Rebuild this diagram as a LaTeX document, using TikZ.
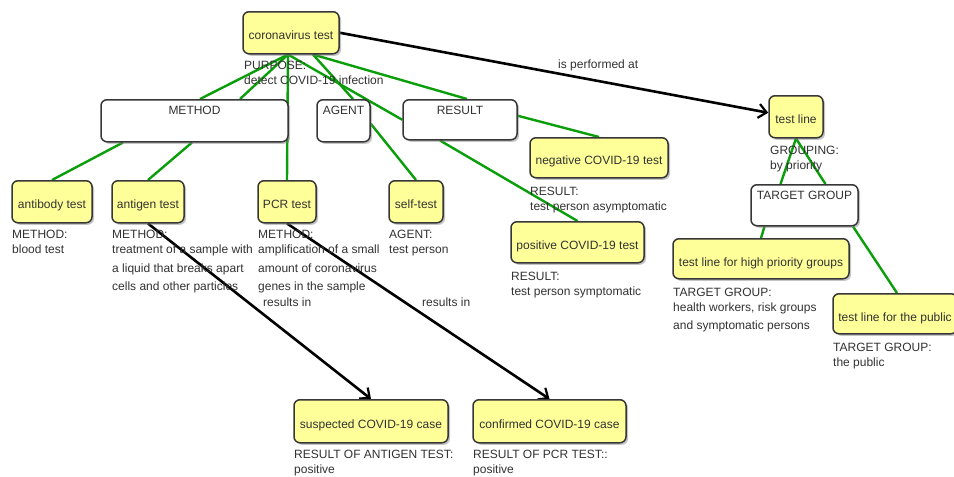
\documentclass[tikz,border=0pt]{standalone}
\usepackage{fontspec}
\setmainfont{Liberation Sans}
\usetikzlibrary{arrows.meta,shadows,backgrounds}
\definecolor{conceptfill}{RGB}{255,255,153}
\definecolor{linkgreen}{RGB}{10,158,10}
\definecolor{edgegray}{RGB}{55,55,55}
\definecolor{txtgray}{RGB}{50,50,50}
\begin{document}
\begin{tikzpicture}[x=1pt,y=-1pt,
  base/.style={draw=edgegray, line width=1.5pt, rounded corners=6pt, inner sep=0pt,
    anchor=north, text=txtgray, font=\fontsize{12}{14}\selectfont,
    drop shadow={shadow xshift=2pt,shadow yshift=-2pt,opacity=0.45}},
  concept/.style={base, fill=conceptfill, text height=28pt, text depth=14pt},
  slot/.style={base, fill=white, text height=15pt, text depth=27pt},
  attr/.style={anchor=north west, align=left, inner sep=0pt, text=txtgray,
    font=\fontsize{12}{15}\selectfont},
  rlabel/.style={anchor=base west, inner sep=0pt, text=txtgray,
    font=\fontsize{12}{15}\selectfont},
  link/.style={linkgreen, line width=2.4pt},
  rel/.style={black, line width=2.6pt,
    -{Straight Barb[length=8pt,width=14pt,line width=2.2pt]}}
]
\useasboundingbox (0,0) rectangle (954,477);

% concepts
\node[concept, minimum width=96pt]  (ct)     at (291,11)   {coronavirus test};
\node[slot,    minimum width=187pt] (method) at (194.5,99) {METHOD};
\node[slot,    minimum width=53pt]  (agent)  at (343.5,99) {AGENT};
\node[slot,    minimum width=114pt, text depth=25pt] (result) at (460,99) {RESULT};
\node[concept, minimum width=54pt]  (tline)  at (796,95)   {test line};
\node[concept, minimum width=138pt, text height=27pt, text depth=13pt] (neg) at (599,137) {negative COVID-19 test};
\node[concept, minimum width=80pt]  (antib)  at (52,180)   {antibody test};
\node[concept, minimum width=72pt]  (antig)  at (148,180)  {antigen test};
\node[concept, minimum width=58pt]  (pcr)    at (287,180)  {PCR test};
\node[concept, minimum width=54pt]  (self)   at (416,180)  {self-test};
\node[concept, minimum width=133pt, text depth=13pt] (pos) at (577.5,221) {positive COVID-19 test};
\node[slot,    minimum width=107pt, text depth=26pt] (tg) at (804.5,184) {TARGET GROUP};
\node[concept, minimum width=176pt, text depth=12pt] (high) at (761,238) {test line for high priority groups};
\node[concept, minimum width=124pt, text depth=12pt] (public) at (895,293) {test line for the public};
\node[concept, minimum width=154pt, text height=29pt] (susp) at (371,399) {suspected COVID-19 case};
\node[concept, minimum width=153pt, text height=29pt] (conf) at (549.5,399) {confirmed COVID-19 case};

% attribute texts
\node[attr] (purpose) at (244,61) {PURPOSE:\\detect COVID-19 infection};
\node[attr] (mab)  at (12,230)  {METHOD:\\blood test};
\node[attr] (mag)  at (112,230) {METHOD:\\treatment of a sample with\\[3.5pt]a liquid that breaks apart\\[3.5pt]cells and other particles};
\node[attr] (mpcr) at (258,230) {METHOD:\\amplification of a small\\[3.5pt]amount of coronavirus\\[3.5pt]genes in the sample};
\node[attr] (aself) at (389,230) {AGENT:\\test person};
\node[attr] (rneg) at (530,187) {RESULT:\\test person asymptomatic};
\node[attr] (rpos) at (511,272) {RESULT:\\test person symptomatic};
\node[attr] (grp)  at (770,146) {GROUPING:\\by priority};
\node[attr] (tgh)  at (673,288) {TARGET GROUP:\\health workers, risk groups\\[3pt]and symptomatic persons};
\node[attr] (tgp)  at (833,343) {TARGET GROUP:\\the public};
\node[attr] (rsusp) at (294,450) {RESULT OF ANTIGEN TEST:\\positive};
\node[attr] (rconf) at (473,450) {RESULT OF PCR TEST::\\positive};

% relation labels
\node[rlabel] (lperf) at (558,68)  {is performed at};
\node[rlabel] (lres1) at (263,306) {results in};
\node[rlabel] (lres2) at (422,306) {results in};

\begin{scope}[on background layer]
  \fill[white] (0,0) rectangle (954,477);
  % attribute links
  \draw[link] ([xshift=-3pt]ct.south) -- ([xshift=5.5pt]method.north);
  \draw[link] ([xshift=-3pt]ct.south) -- ([xshift=45.5pt]method.north);
  \draw[link] ([xshift=-3pt]ct.south) -- (pcr.north);
  \draw[link] ([xshift=-3pt]ct.south) -- (result.west);
  \draw[link] ([xshift=22pt]ct.south) -- ([xshift=9.5pt]agent.north);
  \draw[link] ([xshift=22pt]ct.south) -- ([xshift=7pt]result.north);
  \draw[link] ([xshift=-71.5pt]method.south) -- (antib.north);
  \draw[link] ([xshift=-2.5pt]method.south) -- (antig.north);
  \draw[link] ([yshift=-3pt]agent.east) -- (self.north);
  \draw[link] ([xshift=-20pt]result.south) -- (pos.north);
  \draw[link] ([yshift=4pt]result.east) -- (neg.north);
  \draw[link] (tline.south) -- ([xshift=-24pt]tg.north);
  \draw[link] (tline.south) -- ([xshift=21pt]tg.north);
  \draw[link] ([xshift=-40pt]tg.south) -- (high.north);
  \draw[link] ([xshift=48.5pt]tg.south) -- ([xshift=2pt]public.north);
  % relations
  \draw[rel] (ct.east) -- ([yshift=4pt]tline.west);
  \draw[rel] (antig.south) -- (susp.north);
  \draw[rel] (pcr.south) -- (conf.north);
\end{scope}
\end{tikzpicture}
\end{document}
